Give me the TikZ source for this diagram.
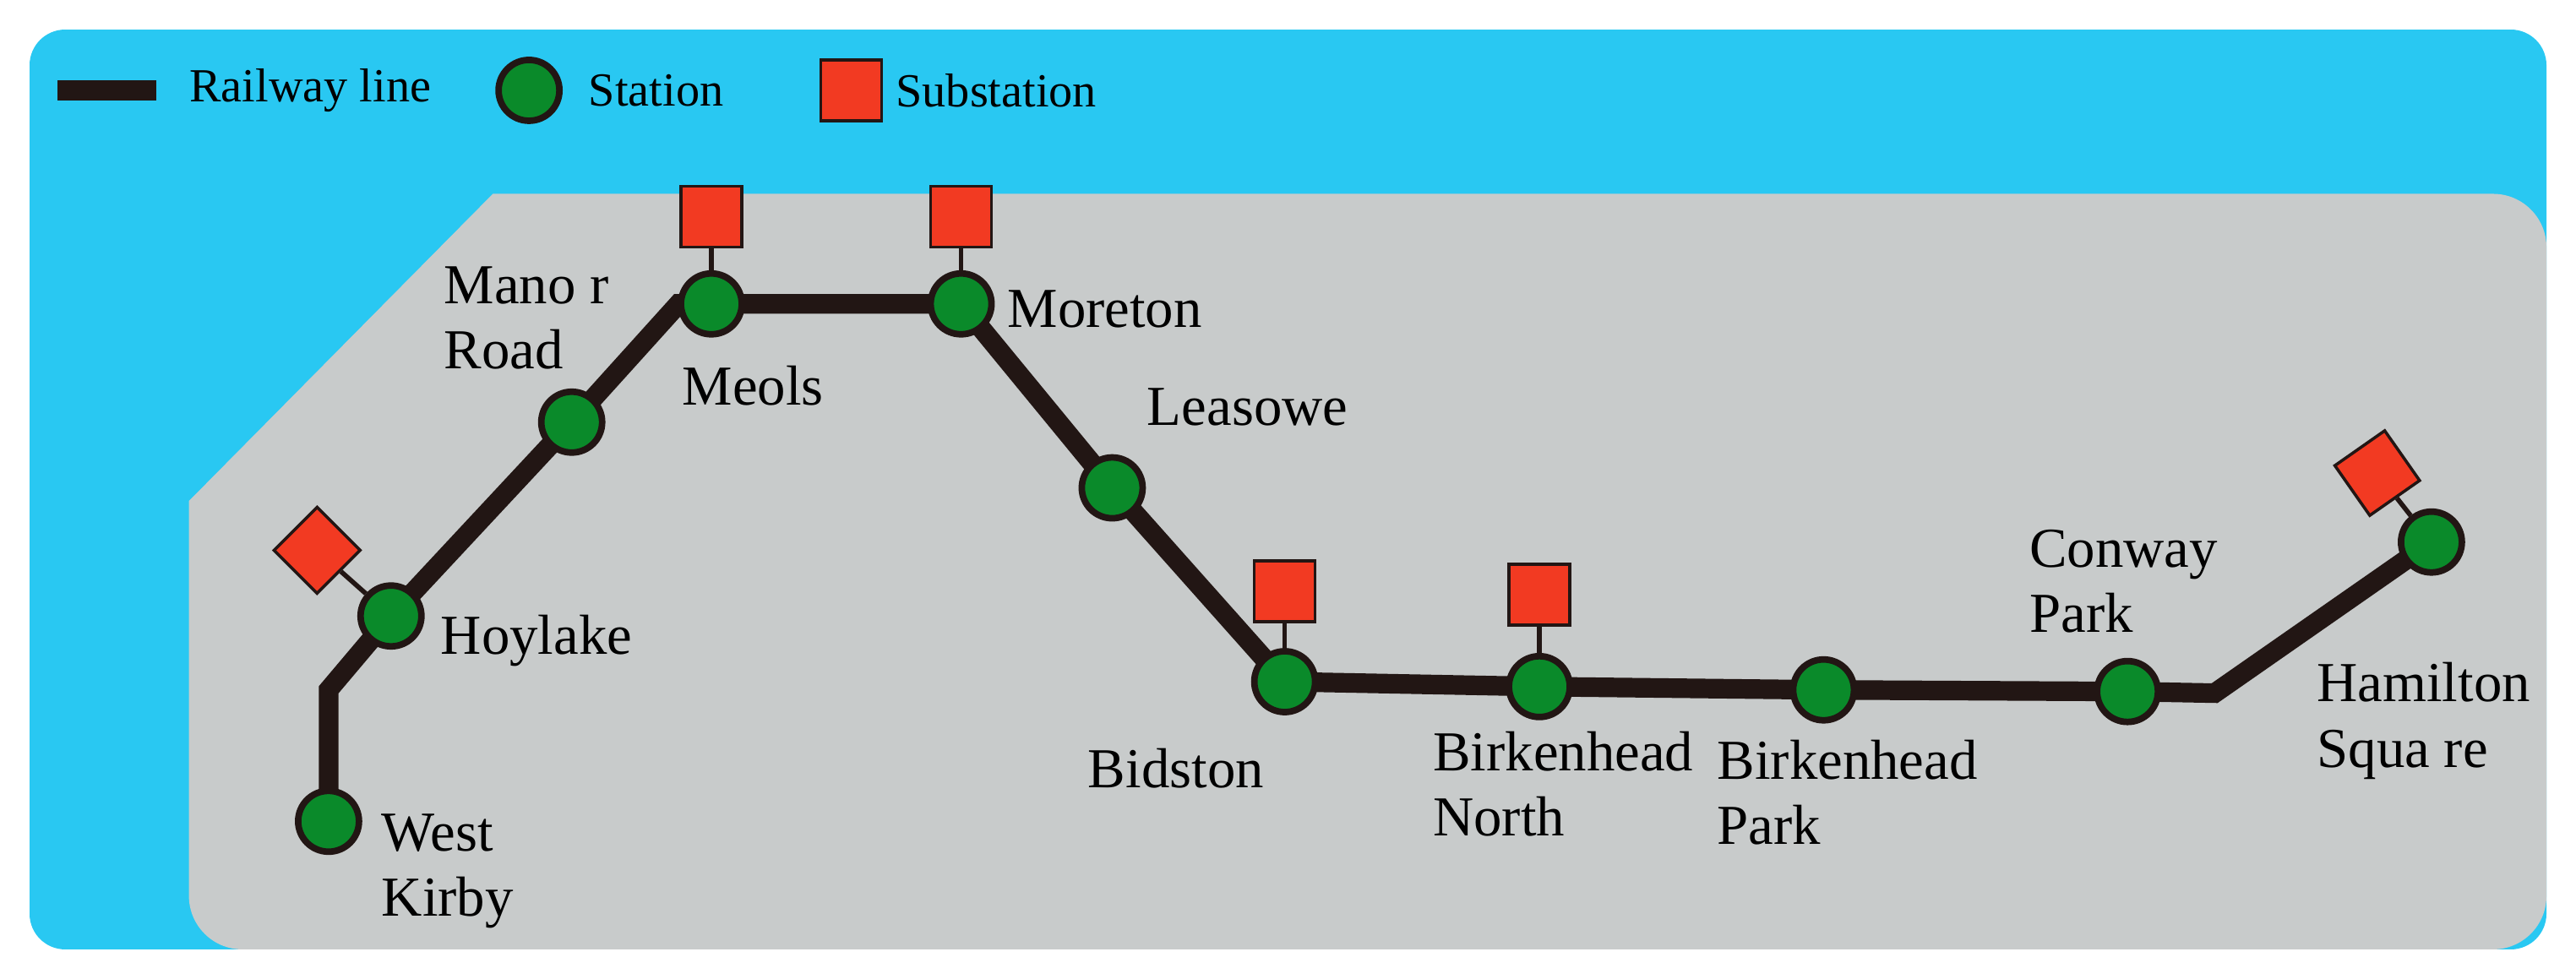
\documentclass[tikz,border=0pt]{standalone}
\usepackage{fontspec}
\setmainfont{Liberation Serif}
\usetikzlibrary{positioning}
\definecolor{sea}{HTML}{29C8F2}
\definecolor{land}{HTML}{C8CBCB}
\definecolor{stgreen}{HTML}{0A8A2A}
\definecolor{subred}{HTML}{F23A22}
\definecolor{rail}{HTML}{221614}

\tikzset{
    station/.style={circle, draw=rail, line width=2.2pt, fill=stgreen, minimum size=0.72cm, inner sep=0pt},
    substation/.style={rectangle, draw=rail, line width=1pt, fill=subred, minimum size=0.72cm, inner sep=0pt},
    railway/.style={line width=6.6pt, draw=rail},
    feeder/.style={line width=1.6pt, draw=rail},
    lbl/.style={font=\fontsize{19}{22}\selectfont, align=left, inner sep=0pt},
    leg/.style={font=\fontsize{16}{19}\selectfont, inner sep=0pt}
}

\begin{document}
\begin{tikzpicture}[x=0.01944cm, y=-0.01944cm]
    \useasboundingbox (0,0) rectangle (1568,596);
    \fill[sea, rounded corners=12] (18,18) rectangle (1550,578);
    \fill[land] (300,118) [rounded corners=18] -- (1550,118) -- (1550,578) -- (115,578) [sharp corners] -- (115,305) -- cycle;

    % legend
    \draw[line width=6.6pt, rail] (35,55) -- (95,55);
    \node[leg, anchor=west] (legline) at (115,55) {Railway line};
    \node[station] (legst) at (322,55) {};
    \node[leg, anchor=west] (leglst) at (358,55) {Station};
    \node[substation] (legsub) at (518,55) {};
    \node[leg, anchor=west] (leglsub) at (545,55) {Substation};

    % stations
    \coordinate (bendA) at (200,420);
    \coordinate (bendB) at (413,185);
    \coordinate (bendC) at (1348,422);
    \draw[railway] (200,500) -- (bendA) -- (238,375) -- (348,257) -- (bendB) -- (585,185) -- (677,297) -- (782,415) -- (937,418) -- (1110,420) -- (1295,421) -- (bendC) -- (1480,330);

    \node[substation, rotate=45] (subhoy) at (193,335) {};
    \node[substation] (submeo) at (433,132) {};
    \node[substation] (submor) at (585,132) {};
    \node[substation] (subbid) at (782,360) {};
    \node[substation] (subbn) at (937,362) {};
    \node[substation, rotate=35] (subham) at (1447,288) {};

    \node[station] (wk) at (200,500) {};
    \node[station] (hoy) at (238,375) {};
    \node[station] (mr) at (348,257) {};
    \node[station] (meo) at (433,185) {};
    \node[station] (mor) at (585,185) {};
    \node[station] (lea) at (677,297) {};
    \node[station] (bid) at (782,415) {};
    \node[station] (bn) at (937,418) {};
    \node[station] (bp) at (1110,420) {};
    \node[station] (cp) at (1295,421) {};
    \node[station] (hs) at (1480,330) {};

    \draw[feeder] (subhoy) -- (hoy);
    \draw[feeder] (submeo) -- (meo);
    \draw[feeder] (submor) -- (mor);
    \draw[feeder] (subbid) -- (bid);
    \draw[feeder] (subbn) -- (bn);
    \draw[feeder] (subham) -- (hs);

    % labels
    \node[lbl, anchor=north west] (lwk) at (232,495) {West\\Kirby};
    \node[lbl, anchor=west] (lhoy) at (268,390) {Hoylake};
    \node[lbl, anchor=north west] (lmr) at (270,162) {Mano r\\Road};
    \node[lbl, anchor=west] (lmeo) at (415,235) {Meols};
    \node[lbl, anchor=west] (lmor) at (613,188) {Moreton};
    \node[lbl, anchor=west] (llea) at (698,248) {Leasowe};
    \node[lbl, anchor=west] (lbid) at (662,468) {Bidston};
    \node[lbl, anchor=north west] (lbn) at (872,445) {Birkenhead\\North};
    \node[lbl, anchor=north west] (lbp) at (1045,450) {Birkenhead\\Park};
    \node[lbl, anchor=north west] (lcp) at (1235,322) {Conway\\Park};
    \node[lbl, anchor=north west] (lhs) at (1410,403) {Hamilton\\Squa re};
\end{tikzpicture}
\end{document}
